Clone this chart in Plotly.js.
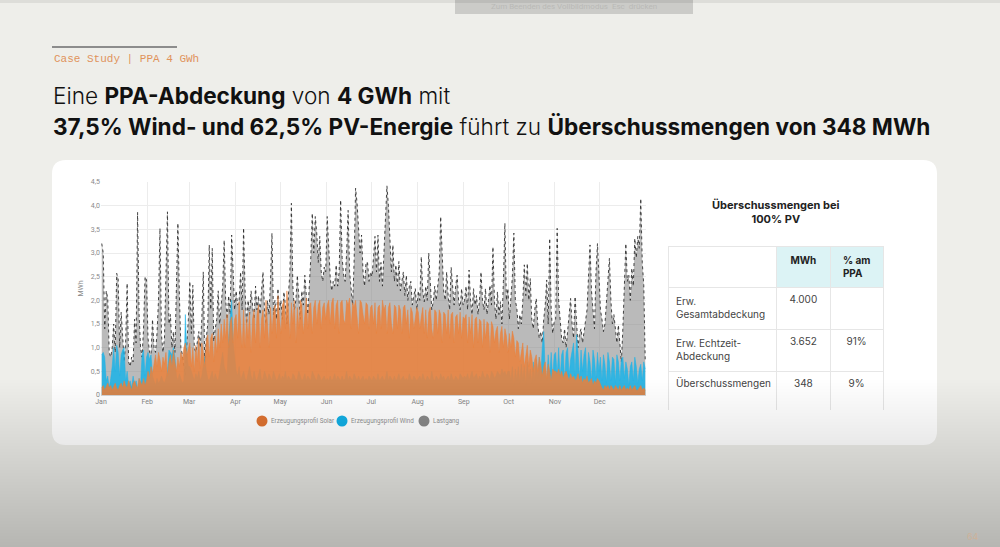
<!DOCTYPE html>
<html>
<head>
<meta charset="utf-8">
<script src="https://cdn.plot.ly/plotly-3.0.1.min.js"></script>
<style>html,body{margin:0;padding:0;background:#eeeeea;}#chart{width:1000px;height:547px;}</style>
</head>
<body>
<div id="chart"></div>
<script>
// ---- Data (daily values, MWh) ----
const monthLabels = ["Jan","Feb","Mar","Apr","May","Jun","Jul","Aug","Sep","Oct","Nov","Dec"];
const monthStarts = ["2023-01-01","2023-02-01","2023-03-01","2023-04-01","2023-05-01","2023-06-01","2023-07-01","2023-08-01","2023-09-01","2023-10-01","2023-11-01","2023-12-01"];
const yTickVals = [0,0.5,1,1.5,2,2.5,3,3.5,4,4.5];
const yTickText = ["0","0,5","1,0","1,5","2,0","2,5","3,0","3,5","4,0","4,5"];

const lastgang = [
3.2,3.0,1.4,2.2,2.05,0.9,0.8,1.0,1.5,0.9,2.57,2.45,1.0,1.75,1.25,0.7,1.1,2.36,0.7,0.6,0.8,0.7,1.6,1.1,3.86,1.7,1.0,0.8,1.4,2.5,2.43,
1.2,0.9,0.85,1.6,1.0,0.9,1.3,2.0,3.52,1.27,0.9,1.2,2.4,3.87,1.5,1.7,1.0,1.34,0.9,2.5,3.63,2.1,1.0,0.85,0.6,0.42,1.1,1.6,
2.4,1.3,2.32,1.0,0.9,1.1,1.34,1.0,1.6,2.6,0.7,1.2,1.5,3.17,1.8,3.1,1.13,1.4,1.6,2.2,1.5,1.9,2.3,3.27,2.0,1.6,2.1,1.7,3.38,2.6,1.8,
2.2,1.9,2.0,2.6,1.8,3.53,2.2,1.5,2.0,1.7,2.2,1.9,1.6,2.3,1.8,2.1,1.7,2.2,2.6,1.8,1.5,2.0,1.7,2.4,3.42,1.7,2.0,1.6,2.25,1.8,
2.0,1.6,2.18,1.9,1.5,2.1,2.6,4.05,2.3,1.8,2.0,2.53,2.0,1.6,2.2,1.9,2.53,2.0,1.7,2.3,2.9,3.84,3.0,3.77,3.42,2.8,3.35,2.6,2.4,2.7,2.6,
3.77,2.96,2.5,2.2,2.4,2.3,2.75,2.3,2.6,4.12,2.9,2.53,2.4,3.0,3.9,2.6,2.2,1.9,2.8,4.37,4.05,3.6,3.0,3.38,2.6,2.3,2.8,2.8,2.4,2.6,
2.5,2.9,3.35,2.6,3.38,2.4,2.8,2.3,3.0,3.6,4.42,4.0,3.2,2.6,3.17,2.4,2.75,2.3,2.82,2.2,2.4,2.6,2.1,2.53,2.0,2.3,2.4,1.9,2.1,2.25,1.8,
2.2,2.0,2.92,2.2,1.97,2.3,2.0,3.0,2.2,1.8,1.97,2.3,2.0,2.4,2.6,3.77,2.75,2.2,2.0,2.6,2.1,1.8,2.7,2.2,1.9,2.3,2.53,2.0,1.8,2.25,1.9,
2.0,2.3,1.8,2.64,2.0,1.7,2.25,1.9,2.1,1.7,2.0,2.6,2.0,1.8,2.25,1.7,2.0,2.32,1.9,3.13,2.0,1.6,2.18,1.7,1.97,1.5,2.4,3.63,2.0,2.25,
1.6,2.0,2.5,3.42,2.0,1.83,1.4,1.7,1.5,2.0,2.75,2.1,2.78,2.0,2.46,1.6,1.4,1.8,2.04,1.5,1.2,1.34,1.1,1.6,1.9,2.43,1.5,3.31,1.8,1.3,1.55,
1.6,3.52,2.0,1.58,1.2,1.1,1.4,1.0,1.3,1.6,2.04,1.5,1.2,2.08,1.4,1.0,1.3,1.4,1.1,1.3,1.55,1.8,2.5,3.17,2.2,1.83,1.4,2.6,3.2,2.53,
1.8,1.6,1.34,1.5,1.9,2.3,2.89,2.0,1.5,1.7,1.3,1.1,1.48,1.0,0.7,1.4,2.3,3.2,2.4,2.53,2.0,2.68,2.3,3.31,2.9,3.35,3.1,4.15,2.8,2.32,0.7
];

const solar = [
0.15,0.2,0.1,0.2,0.25,0.15,0.2,0.1,0.2,0.25,0.15,0.1,0.2,0.25,0.15,0.3,0.2,0.15,0.3,0.2,0.1,0.25,0.3,0.2,0.15,0.35,0.25,0.2,0.35,0.2,0.3,
0.5,0.35,0.6,0.45,0.7,0.85,0.6,0.9,0.75,0.5,0.8,0.65,0.9,0.4,0.7,0.85,0.6,0.95,0.7,0.5,0.8,0.6,0.9,0.75,1.0,1.1,0.85,0.95,
1.1,0.6,1.0,0.5,1.05,0.7,1.2,0.55,1.1,0.9,0.6,1.15,1.27,0.8,1.2,1.3,0.7,1.25,0.9,1.4,1.0,1.5,1.1,1.6,1.2,1.7,1.0,1.55,1.65,1.1,1.6,
1.7,1.2,1.97,1.4,1.0,1.8,1.0,1.65,1.2,1.75,0.9,1.6,1.8,1.1,1.7,1.9,1.0,1.6,1.8,1.2,2.0,1.5,1.0,1.85,1.3,1.75,1.9,1.2,2.1,1.6,
1.3,1.9,2.0,1.4,2.2,1.8,1.2,1.95,1.5,2.0,1.1,1.85,1.4,2.0,1.9,1.3,1.8,2.05,1.4,1.9,1.95,1.3,1.85,2.0,1.5,1.9,2.0,1.4,1.85,1.95,1.6,
1.9,2.0,1.5,1.95,2.05,1.4,1.9,2.0,1.3,1.95,2.0,1.6,1.5,2.0,1.9,2.05,1.4,1.95,1.85,2.0,1.6,1.3,2.0,1.95,1.7,1.5,1.95,1.9,1.4,1.85,
1.9,1.5,1.95,1.3,1.85,1.9,1.4,2.0,1.8,1.9,1.3,1.85,1.95,1.5,1.3,1.9,1.85,1.4,1.9,1.8,1.3,1.85,1.9,1.5,1.8,1.2,1.85,1.75,1.4,1.7,1.85,
1.75,1.4,1.65,1.85,1.3,1.8,1.2,1.75,1.85,1.4,1.2,1.8,1.75,1.3,1.8,1.7,1.1,1.75,1.7,1.3,1.8,1.2,1.7,1.75,1.1,1.65,1.7,1.3,1.75,1.2,1.65,
1.6,1.7,1.1,1.65,1.3,1.7,1.0,1.6,1.65,1.1,1.6,1.55,1.0,1.6,1.2,1.55,1.5,0.9,1.55,1.45,1.1,1.35,1.45,0.9,1.3,1.45,1.0,1.4,1.25,0.9,
1.3,1.0,1.35,1.2,0.8,1.15,1.1,0.7,0.95,1.1,0.6,0.9,1.05,0.6,0.95,0.8,0.5,0.75,0.85,0.5,0.8,0.65,0.4,0.6,0.7,0.35,0.65,0.5,0.3,0.55,0.5,
0.5,0.45,0.55,0.4,0.5,0.35,0.45,0.5,0.4,0.3,0.45,0.35,0.4,0.3,0.35,0.45,0.3,0.4,0.25,0.35,0.3,0.4,0.25,0.3,0.35,0.2,0.3,0.25,0.35,0.3,
0.2,0.15,0.1,0.2,0.15,0.2,0.1,0.2,0.15,0.1,0.2,0.15,0.1,0.2,0.1,0.15,0.2,0.1,0.15,0.1,0.2,0.1,0.15,0.2,0.1,0.1,0.15,0.2,0.1,0.15,0.1
];

const wind = [
0.85,0.9,0.8,0.3,0.4,0.15,0.35,0.6,1.0,0.5,1.05,0.9,0.4,0.85,0.95,1.0,0.3,0.5,0.2,0.3,0.15,0.4,0.2,0.3,0.1,0.35,0.2,0.85,0.95,0.4,0.8,
0.9,0.75,0.85,0.4,0.3,0.2,0.35,0.25,0.3,0.4,0.3,0.25,0.35,0.5,0.95,0.9,0.85,1.0,0.8,0.4,0.3,0.45,0.35,0.25,0.3,1.7,0.9,0.6,
0.6,0.5,0.4,0.3,0.45,0.35,0.5,0.3,0.4,0.6,0.8,0.5,0.35,0.3,0.4,0.5,0.3,0.45,0.35,0.3,0.5,0.7,0.9,0.6,0.5,0.4,1.2,1.6,2.0,1.1,0.8,
0.5,0.4,0.6,0.3,0.4,0.5,0.35,0.3,0.45,0.6,0.4,0.3,0.5,0.35,0.3,0.4,0.55,0.3,0.35,0.5,0.4,0.3,0.45,0.35,0.3,0.5,0.4,0.3,0.35,0.45,
0.3,0.4,0.35,0.5,0.3,0.4,0.35,0.3,0.45,0.4,0.3,0.35,0.5,0.4,0.3,0.35,0.45,0.3,0.4,0.35,0.3,0.5,0.4,0.35,0.3,0.45,0.4,0.3,0.35,0.4,0.3,
0.35,0.3,0.4,0.3,0.35,0.45,0.3,0.4,0.35,0.3,0.4,0.3,0.35,0.5,0.3,0.4,0.35,0.3,0.45,0.35,0.3,0.4,0.3,0.35,0.4,0.3,0.35,0.3,0.4,0.35,
0.3,0.4,0.35,0.3,0.45,0.3,0.35,0.4,0.3,0.35,0.5,0.3,0.4,0.35,0.3,0.4,0.3,0.35,0.45,0.3,0.35,0.4,0.3,0.35,0.3,0.45,0.35,0.3,0.4,0.35,0.3,
0.35,0.4,0.3,0.45,0.35,0.3,0.4,0.35,0.3,0.5,0.35,0.3,0.4,0.35,0.3,0.45,0.35,0.4,0.3,0.35,0.4,0.3,0.45,0.35,0.3,0.4,0.35,0.3,0.45,0.4,0.35,
0.4,0.35,0.45,0.3,0.4,0.5,0.35,0.4,0.45,0.3,0.4,0.35,0.5,0.4,0.35,0.45,0.4,0.3,0.5,0.45,0.35,0.4,0.5,0.45,0.4,0.55,0.45,0.5,0.4,0.5,
0.5,0.3,0.6,0.2,0.55,0.3,0.6,0.25,0.65,0.3,0.6,0.2,0.7,0.35,0.55,0.25,0.7,0.3,0.75,0.35,0.8,0.3,1.0,1.34,0.5,0.3,0.85,0.4,0.9,0.35,0.85,
0.9,0.4,1.0,0.35,0.85,0.95,0.3,0.9,1.0,0.4,0.75,0.95,1.1,0.4,1.27,0.9,0.35,0.95,0.5,0.85,1.0,0.3,0.9,0.7,0.3,0.95,0.75,0.35,0.9,0.5,
0.8,0.3,0.85,0.65,0.25,0.9,0.7,0.3,0.8,0.75,0.25,0.85,0.7,0.3,0.75,0.8,0.35,0.7,0.55,0.2,0.6,0.7,0.3,0.8,0.6,0.25,0.55,0.65,0.3,0.7,0.55
];

const seriesNames = ["Erzeugungsprofil Solar","Erzeugungsprofil Wind","Lastgang"];
const seriesColors = ["#e07a3c","#1fb3e6","#8f8f8f"];

// Table data
const tableTitle = "Überschussmengen bei<br>100% PV";
const tableHeader = ["", "MWh", "% am<br>PPA"];
const rowLabels = ["Erw.<br>Gesamtabdeckung", "Erw. Echtzeit-<br>Abdeckung", "Überschussmengen"];
const mwhValues = ["4.000", "3.652", "348"];
const pctValues = ["", "91%", "9%"];

// ---- Build ----
const W = 1000, H = 547;
const px = x => x / W;
const py = y => 1 - y / H;
const t0 = Date.UTC(2023, 0, 1, 12);
const dates = lastgang.map((_, i) => new Date(t0 + i * 86400000).toISOString().slice(0, 19));

const traces = [
  {type:"scatter", mode:"lines", x:dates, y:lastgang, name:seriesNames[2], showlegend:false,
   fill:"tozeroy", fillcolor:"rgba(140,140,140,0.6)", line:{color:"rgba(40,40,40,0.85)", width:1, dash:"dot"}},
  {type:"scatter", mode:"lines", x:dates, y:wind, name:seriesNames[1], showlegend:false,
   fill:"tozeroy", fillcolor:"rgba(31,179,230,0.88)", line:{color:"rgba(31,179,230,0.9)", width:0.6}},
  {type:"scatter", mode:"lines", x:dates, y:solar, name:seriesNames[0], showlegend:false,
   fill:"tozeroy", fillcolor:"rgba(233,130,62,0.88)", line:{color:"rgba(233,130,62,0.9)", width:0.6}},
  // table
  {type:"table", domain:{x:[px(668), px(884)], y:[py(410), py(246)]},
   columnwidth:[109,54,53],
   header:{values:tableHeader.map(v => v ? "<b>"+v+"</b>" : ""), height:38,
     align:["left","center","center"],
     fill:{color:["#ffffff","#dcf3f5","#dcf3f5"]},
     line:{color:"#e6e6e6", width:1},
     font:{family:"Inter, Roboto, sans-serif", size:10, color:"#222"}},
   cells:{values:[rowLabels, mwhValues, pctValues], height:42,
     align:["left","center","center"],
     fill:{color:"#ffffff"},
     line:{color:"#e6e6e6", width:1},
     font:{family:"Inter, Roboto, sans-serif", size:10, color:"#444"}}}
];

// rounded card path
function roundRect(x0, y0, x1, y1, r) {
  const rx = r / W, ry = r / H;
  const X0 = px(x0), X1 = px(x1), Y0 = py(y0), Y1 = py(y1);
  return `M ${X0+rx},${Y0} L ${X1-rx},${Y0} Q ${X1},${Y0} ${X1},${Y0-ry} L ${X1},${Y1+ry} Q ${X1},${Y1} ${X1-rx},${Y1} L ${X0+rx},${Y1} Q ${X0},${Y1} ${X0},${Y1+ry} L ${X0},${Y0-ry} Q ${X0},${Y0} ${X0+rx},${Y0} Z`;
}

const shapes = [
  {type:"path", xref:"paper", yref:"paper", layer:"below", path:roundRect(52,160,937,445,14),
   fillcolor:"#ffffff", line:{width:0}},
  {type:"line", xref:"paper", yref:"paper", x0:px(52), x1:px(177), y0:py(47), y1:py(47),
   line:{color:"#8c8c8c", width:2}},
  {type:"rect", xref:"paper", yref:"paper", layer:"below", x0:px(455), x1:px(693), y0:py(14), y1:py(0),
   fillcolor:"#cbcbc8", line:{width:0}},
  {type:"rect", xref:"paper", yref:"paper", layer:"below", x0:0, x1:1, y0:py(3), y1:1,
   fillcolor:"rgba(0,0,0,0.07)", line:{width:0}}
];
// smooth darkening toward the bottom of the slide (many faint layers)
for (let t = 380; t < H; t += 3) {
  shapes.push({type:"rect", xref:"paper", yref:"paper", layer:"above",
    x0:0, x1:1, y0:0, y1:py(t), fillcolor:"rgba(45,45,40,0.0042)", line:{width:0}});
}

// custom legend (circle + label), centred under the plot
const legendX = [262, 342, 424];
const legendY = 421;
seriesNames.forEach((n, i) => {
  shapes.push({type:"circle", xref:"paper", yref:"paper", layer:"below",
    x0:px(legendX[i]-5.5), x1:px(legendX[i]+5.5), y0:py(legendY+5.5), y1:py(legendY-5.5),
    fillcolor:seriesColors[i], line:{width:0}});
});

const annotations = [
  {xref:"paper", yref:"paper", x:px(52), y:py(59), xanchor:"left", yanchor:"middle", showarrow:false,
   text:"Case Study | PPA 4 GWh", font:{family:"Liberation Mono, DejaVu Sans Mono, monospace", size:11, color:"#e0935c"}},
  {xref:"paper", yref:"paper", x:px(51), y:py(95), xanchor:"left", yanchor:"middle", showarrow:false,
   text:"Eine <b>PPA-Abdeckung</b> von <b>4 GWh</b> mit", font:{family:"Inter, Roboto, sans-serif", size:22.6, weight:300, color:"#111"}},
  {xref:"paper", yref:"paper", x:px(51), y:py(127), xanchor:"left", yanchor:"middle", showarrow:false,
   text:"<b>37,5% Wind- und 62,5% PV-Energie</b> führt zu <b>Überschussmengen von 348 MWh</b>", font:{family:"Inter, Roboto, sans-serif", size:22.6, weight:300, color:"#111"}},
  {xref:"paper", yref:"paper", x:px(776), y:py(212), xanchor:"center", yanchor:"middle", showarrow:false,
   text:"<b>"+tableTitle.replace("<br>","</b><br><b>")+"</b>", font:{family:"Inter, Roboto, sans-serif", size:11, color:"#222"}},
  {xref:"paper", yref:"paper", x:px(574), y:py(6), xanchor:"center", yanchor:"middle", showarrow:false,
   text:"Zum Beenden des Vollbildmodus  Esc  drücken", font:{family:"Roboto, sans-serif", size:8, color:"#b9b9b6"}},
  {xref:"paper", yref:"paper", x:px(973), y:py(536), xanchor:"center", yanchor:"middle", showarrow:false,
   text:"64", font:{family:"Inter, Roboto, sans-serif", size:9, color:"#cdb29a"}}
];
seriesNames.forEach((n, i) => {
  annotations.push({xref:"paper", yref:"paper", x:px(legendX[i]+7), y:py(legendY), xanchor:"left", yanchor:"middle",
    showarrow:false, text:n, font:{family:"Roboto, sans-serif", size:6.3, color:"#888"}});
});

const layout = {
  width:W, height:H, autosize:false,
  margin:{l:0, r:0, t:0, b:0, pad:0},
  paper_bgcolor:"#eeeeea", plot_bgcolor:"rgba(0,0,0,0)",
  showlegend:false,
  xaxis:{type:"date", domain:[px(101), px(646)], range:["2023-01-01","2024-01-01"],
    tickvals:monthStarts, ticktext:monthLabels, tickfont:{family:"Roboto, sans-serif", size:7, color:"#8a8a8a"},
    showgrid:true, gridcolor:"#ececec", gridwidth:1, zeroline:false, showline:true, linecolor:"#d5d5d5",
    ticks:"", anchor:"y"},
  yaxis:{domain:[py(395), py(182)], range:[0,4.5], tickvals:yTickVals, ticktext:yTickText,
    tickfont:{family:"Roboto, sans-serif", size:7, color:"#8a8a8a"}, showgrid:true, gridcolor:"#ececec",
    zeroline:false, showline:false, ticks:"",
    title:{text:"MWh", font:{family:"Roboto, sans-serif", size:7, color:"#8a8a8a"}, standoff:6}},
  shapes:shapes,
  annotations:annotations
};

Plotly.newPlot("chart", traces, layout, {staticPlot:true, displayModeBar:false});
</script>
</body>
</html>
